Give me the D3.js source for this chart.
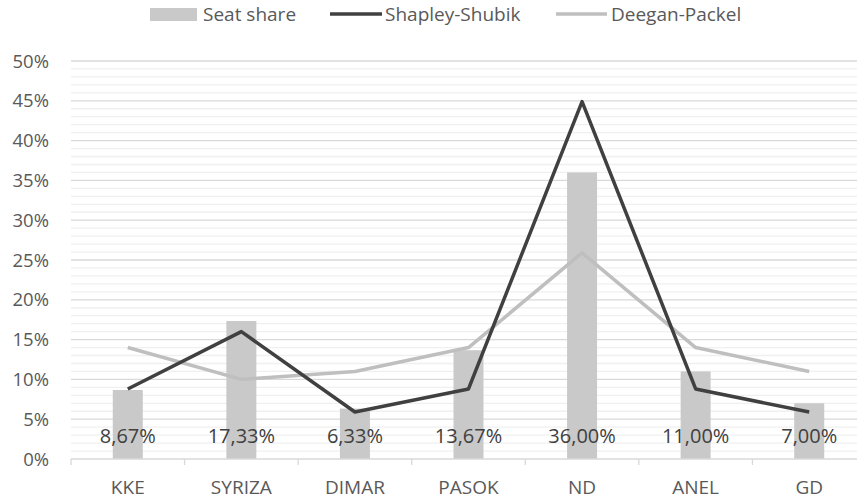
<!DOCTYPE html>
<html><head><meta charset="utf-8">
<script src="https://cdn.jsdelivr.net/npm/d3@7"></script>
<style>body{margin:0;background:#fff}svg{display:block}text{font-family:"Open Sans",sans-serif}</style>
</head><body>
<svg id="c" width="857" height="500"></svg>
<script>
const categories = ["KKE","SYRIZA","DIMAR","PASOK","ND","ANEL","GD"];
const seatShare = [8.67, 17.33, 6.33, 13.67, 36.00, 11.00, 7.00];
const shapleyShubik = [8.8, 16.0, 5.9, 8.8, 44.9, 8.8, 5.9];
const deeganPackel = [14.0, 10.0, 11.0, 14.0, 25.9, 14.0, 11.0];
const yTicks = [0,5,10,15,20,25,30,35,40,45,50];
const seriesNames = ["Seat share","Shapley-Shubik","Deegan-Packel"];

const svg = d3.select("#c");
const x = d3.scaleBand().domain(categories).range([71, 866]).padding(0);
const y = d3.scaleLinear().domain([0, 50]).range([459, 61]);

// minor gridlines
const minor = d3.range(0, 51, 1).filter(v => v % 5 !== 0);
svg.append("g").selectAll("line").data(minor).join("line")
  .attr("x1", 71).attr("x2", 866).attr("y1", d => y(d)).attr("y2", d => y(d))
  .attr("stroke", "#f0f0f0").attr("stroke-width", 1.3);
// major gridlines
svg.append("g").selectAll("line").data(yTicks.filter(v => v > 0)).join("line")
  .attr("x1", 71).attr("x2", 866).attr("y1", d => y(d)).attr("y2", d => y(d))
  .attr("stroke", "#d9d9d9").attr("stroke-width", 1.3);

// y labels
svg.append("g").selectAll("text").data(yTicks).join("text")
  .attr("x", 49).attr("y", d => y(d) + 6.5)
  .attr("text-anchor", "end").attr("fill", "#595959").attr("font-size", 18.5)
  .text(d => d + "%");

// bars
const bw = 30;
svg.append("g").selectAll("rect").data(seatShare).join("rect")
  .attr("x", (d, i) => x(categories[i]) + x.bandwidth() / 2 - bw / 2)
  .attr("width", bw)
  .attr("y", d => y(d)).attr("height", d => y(0) - y(d))
  .attr("fill", "#c9c9c9");

// x axis
const ax = svg.append("g").attr("transform", `translate(0,${y(0)})`);
ax.append("line").attr("x1", 71).attr("x2", 866).attr("stroke", "#d9d9d9").attr("stroke-width", 1.3);
ax.selectAll("line.t").data(categories).join("line").attr("class", "t")
  .attr("x1", d => x(d)).attr("x2", d => x(d)).attr("y1", 0).attr("y2", 6)
  .attr("stroke", "#d9d9d9").attr("stroke-width", 1.3);
ax.selectAll("text.c").data(categories).join("text").attr("class", "c")
  .attr("x", d => x(d) + x.bandwidth() / 2).attr("y", 35)
  .attr("text-anchor", "middle").attr("fill", "#595959").attr("font-size", 19)
  .text(d => d);

// lines
const line = d3.line().x((d, i) => x(categories[i]) + x.bandwidth() / 2).y(d => y(d));
svg.append("path").datum(deeganPackel).attr("d", line)
  .attr("fill", "none").attr("stroke", "#bfbfbf").attr("stroke-width", 3.5).attr("stroke-linejoin", "round");
svg.append("path").datum(shapleyShubik).attr("d", line)
  .attr("fill", "none").attr("stroke", "#404040").attr("stroke-width", 3.5).attr("stroke-linejoin", "round");

// data labels
const fmt = v => v.toFixed(2).replace(".", ",") + "%";
svg.append("g").selectAll("text").data(seatShare).join("text")
  .attr("x", (d, i) => x(categories[i]) + x.bandwidth() / 2).attr("y", 443)
  .attr("text-anchor", "middle").attr("fill", "#404040").attr("font-size", 20)
  .text(d => fmt(d));

// legend
const lg = svg.append("g");
lg.append("rect").attr("x", 150).attr("y", 8).attr("width", 47).attr("height", 13).attr("fill", "#c9c9c9");
lg.append("text").attr("x", 203).attr("y", 21).attr("fill", "#595959").attr("font-size", 19).text(seriesNames[0]);
lg.append("line").attr("x1", 330).attr("x2", 382).attr("y1", 14).attr("y2", 14).attr("stroke", "#404040").attr("stroke-width", 3.5);
lg.append("text").attr("x", 385).attr("y", 21).attr("fill", "#595959").attr("font-size", 19).text(seriesNames[1]);
lg.append("line").attr("x1", 556).attr("x2", 607).attr("y1", 14).attr("y2", 14).attr("stroke", "#bfbfbf").attr("stroke-width", 3.5);
lg.append("text").attr("x", 611).attr("y", 21).attr("fill", "#595959").attr("font-size", 19).text(seriesNames[2]);
</script>
</body></html>
